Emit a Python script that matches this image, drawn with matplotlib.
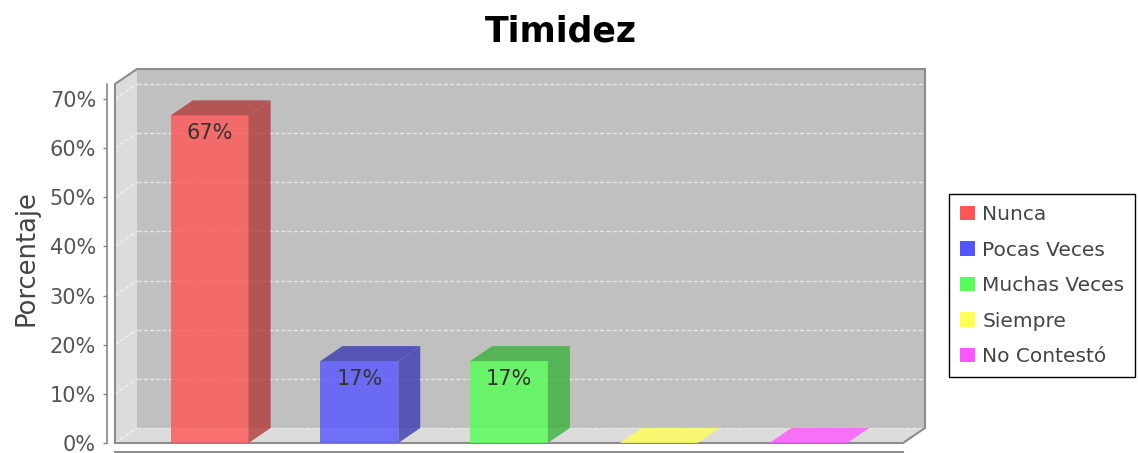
import matplotlib
matplotlib.use('Agg')
import matplotlib.pyplot as plt
from matplotlib.patches import Polygon, Patch
import matplotlib.colors as mcolors

# Chart data
categories = ['Nunca', 'Pocas Veces', 'Muchas Veces', 'Siempre', 'No Contestó']
percentages = [66.67, 16.67, 16.67, 0.0, 0.0]
series_colors = ['#ff5555', '#5555ff', '#55ff55', '#ffff55', '#ff55ff']
y_ticks = [0, 10, 20, 30, 40, 50, 60, 70]
title = 'Timidez'
y_label = 'Porcentaje'

# Layout (pixels)
W, H = 1138, 453
left_px, right_px, top_px, bottom_px = 115, 903, 84, 443
depth_x_px, depth_y_px = 22, 15
bar_width = 0.52
fg_alpha = 0.8

fig = plt.figure(figsize=(W / 100, H / 100), dpi=100)
fig.patch.set_facecolor('white')
ax = fig.add_axes([left_px / W, 1 - bottom_px / H,
                   (right_px - left_px) / W, (bottom_px - top_px) / H])
ax.set_xlim(-0.633, len(categories) - 1 + 0.633)
ax.set_ylim(0, 73.05)
ax.patch.set_visible(False)

x0, x1 = ax.get_xlim()
y0, y1 = ax.get_ylim()
dx = depth_x_px * (x1 - x0) / (right_px - left_px)
dy = depth_y_px * (y1 - y0) / (bottom_px - top_px)


def darker(c):
    r, g, b = mcolors.to_rgb(c)
    return (int(r * 255 * 0.7) / 255, int(g * 255 * 0.7) / 255, int(b * 255 * 0.7) / 255)


def poly(pts, fc, z, alpha=1.0):
    p = Polygon(pts, closed=True, facecolor=fc, edgecolor='none',
                alpha=alpha, clip_on=False, zorder=z)
    ax.add_patch(p)


# 3D box: back wall, left wall, floor
poly([(x0 + dx, dy), (x1 + dx, dy), (x1 + dx, y1 + dy), (x0 + dx, y1 + dy)], '#c0c0c0', 0)
poly([(x0, 0), (x0 + dx, dy), (x0 + dx, y1 + dy), (x0, y1)], '#dcdcdc', 0)
poly([(x0, 0), (x1, 0), (x1 + dx, dy), (x0 + dx, dy)], '#dcdcdc', 0)

# gridlines on the back wall and the left wall
for t in y_ticks:
    ax.plot([x0 + dx, x1 + dx], [t + dy, t + dy], color='#e6e6e6', lw=1.0,
            dashes=(3, 1.5), clip_on=False, zorder=1)
    ax.plot([x0, x0 + dx], [t, t + dy], color='white', alpha=0.6, lw=1.0,
            dashes=(3, 1.5), clip_on=False, zorder=1)

# box outline
ox = [x0, x0, x0 + dx, x1 + dx, x1 + dx, x1, x0]
oy = [0, y1, y1 + dy, y1 + dy, dy, 0, 0]
ax.plot(ox, oy, color='#8c8c8c', lw=1.5, clip_on=False, zorder=2,
        solid_joinstyle='miter')

# 3D bars
for i, (v, c) in enumerate(zip(percentages, series_colors)):
    l, r = i - bar_width / 2, i + bar_width / 2
    dc = darker(c)
    if v > 0:
        poly([(l, 0), (r, 0), (r, v), (l, v)], c, 3, fg_alpha)
        poly([(r, 0), (r + dx, dy), (r + dx, v + dy), (r, v)], dc, 3, fg_alpha)
        poly([(l, v), (r, v), (r + dx, v + dy), (l + dx, v + dy)], dc, 3, fg_alpha)
        ax.annotate(f'{v:.0f}%', xy=(i, v), xytext=(0, -18),
                    textcoords='offset pixels', ha='center', va='center',
                    fontsize=15, color='#333333', zorder=4)
    else:
        poly([(l, v), (r, v), (r + dx, v + dy), (l + dx, v + dy)], c, 3, fg_alpha)

# axes
for s in ('top', 'right'):
    ax.spines[s].set_visible(False)
ax.spines['left'].set_position(('outward', 8 * 0.72))
ax.spines['left'].set_color('#888888')
ax.spines['left'].set_linewidth(1.2)
ax.spines['bottom'].set_position(('outward', 9 * 0.72))
ax.spines['bottom'].set_color('#8c8c8c')
ax.spines['bottom'].set_linewidth(1.5)
ax.set_xticks([])
ax.set_yticks(y_ticks)
ax.set_yticklabels([f'{t}%' for t in y_ticks])
ax.tick_params(axis='y', length=2.9, width=1, color='#888888',
               labelcolor='#555555', labelsize=15, pad=5)

fig.text(27 / W, 1 - 258 / H, y_label, rotation=90, ha='center', va='center',
         fontsize=18.5, color='#444444')
fig.text(560.5 / W, 1 - 41 / H, title, ha='center', va='baseline',
         fontsize=25, fontweight='bold', color='black')

handles = [Patch(facecolor=c, edgecolor='none') for c in series_colors]
leg = fig.legend(handles, categories, loc='upper left',
                 bbox_to_anchor=(949 / W, 1 - 194 / H), frameon=True,
                 fancybox=False, edgecolor='black', framealpha=1,
                 fontsize=14.5, handlelength=0.75, handleheight=0.75,
                 handletextpad=0.35, labelspacing=0.82, borderpad=0.55,
                 borderaxespad=0)
leg.get_frame().set_linewidth(1.0)
for txt in leg.get_texts():
    txt.set_color('#444444')

fig.savefig('out.png', dpi=100)
